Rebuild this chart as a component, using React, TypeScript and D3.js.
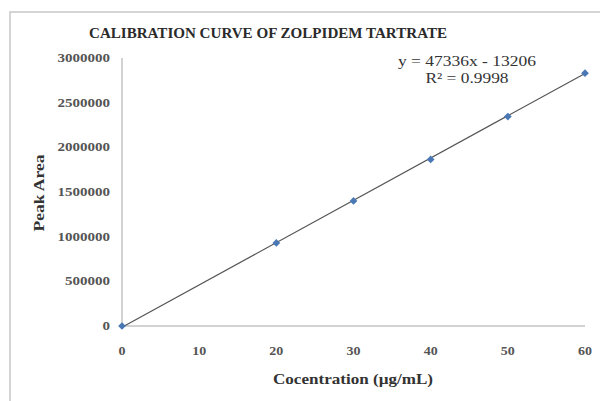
import React from 'react';
import * as d3 from 'd3';

const concentrations = [0, 20, 30, 40, 50, 60];
const peakAreas = [0, 930000, 1400000, 1865000, 2345000, 2830000];
const xTicks = [0, 10, 20, 30, 40, 50, 60];
const yTicks = [0, 500000, 1000000, 1500000, 2000000, 2500000, 3000000];
const slope = 47336;
const intercept = -13206;
const equationText = 'y = 47336x - 13206';
const r2Text = 'R² = 0.9998';

const App = () => {
  const width = 600;
  const height = 401;
  const left = 122;
  const right = 585;
  const top = 58;
  const bottom = 326;

  const x = d3.scaleLinear().domain([0, 60]).range([left, right]);
  const y = d3.scaleLinear().domain([0, 3000000]).range([bottom, top]);

  const trend = d3.line<number>()
    .x(d => x(d))
    .y(d => y(slope * d + intercept));

  // Excel-style diamond: a square turned 45 degrees
  const marker = d3.symbol().type(d3.symbolSquare).size(30)();
  const serif = '"Liberation Serif", "Times New Roman", serif';

  return (
    <svg width={width} height={height} style={{ position: 'absolute', left: 0, top: 0 }}>
      <rect x={0} y={0} width={width} height={height} fill="#fff" />
      <rect x={10} y={12} width={620} height={420} fill="none" stroke="#c8c8c8" strokeWidth={1.5} />

      <text x={268} y={38} textAnchor="middle" fontFamily={serif} fontSize={15} fontWeight="bold"
        fill="#2a2a2a" textLength={358} lengthAdjust="spacingAndGlyphs">
        CALIBRATION CURVE OF ZOLPIDEM TARTRATE
      </text>

      {/* axes */}
      <line x1={left} x2={left} y1={top} y2={bottom} stroke="#a6a6a6" strokeWidth={1} />
      <line x1={left} x2={right} y1={bottom} y2={bottom} stroke="#a6a6a6" strokeWidth={1} />

      {yTicks.map(t => (
        <text key={t} x={110} y={y(t) + 4} textAnchor="end" fontFamily={serif} fontSize={12}
          fontWeight="bold" fill="#555" textLength={String(t).length * 7.5}
          lengthAdjust="spacingAndGlyphs">
          {t}
        </text>
      ))}
      {xTicks.map(t => (
        <text key={t} x={x(t)} y={355} textAnchor="middle" fontFamily={serif} fontSize={12}
          fontWeight="bold" fill="#555" textLength={String(t).length * 7}
          lengthAdjust="spacingAndGlyphs">
          {t}
        </text>
      ))}

      <text transform={`translate(44,193) rotate(-90)`} textAnchor="middle" fontFamily={serif}
        fontSize={15} fontWeight="bold" fill="#333" textLength={77} lengthAdjust="spacingAndGlyphs">
        Peak Area
      </text>
      <text x={353} y={384} textAnchor="middle" fontFamily={serif} fontSize={15} fontWeight="bold"
        fill="#333" textLength={160} lengthAdjust="spacingAndGlyphs">
        Cocentration (µg/mL)
      </text>

      <path d={trend([0, 60]) ?? ''} fill="none" stroke="#555" strokeWidth={1.2} />

      {concentrations.map((c, i) => (
        <path key={c} d={marker ?? ''}
          transform={`translate(${x(c)},${y(peakAreas[i])}) rotate(45)`}
          fill="#4a78b5" />
      ))}

      <text x={467} y={66} textAnchor="middle" fontFamily={serif} fontSize={15} fill="#333"
        textLength={138} lengthAdjust="spacingAndGlyphs">
        {equationText}
      </text>
      <text x={467} y={83} textAnchor="middle" fontFamily={serif} fontSize={15} fill="#333"
        textLength={83} lengthAdjust="spacingAndGlyphs">
        {r2Text}
      </text>
    </svg>
  );
};

export default App;
